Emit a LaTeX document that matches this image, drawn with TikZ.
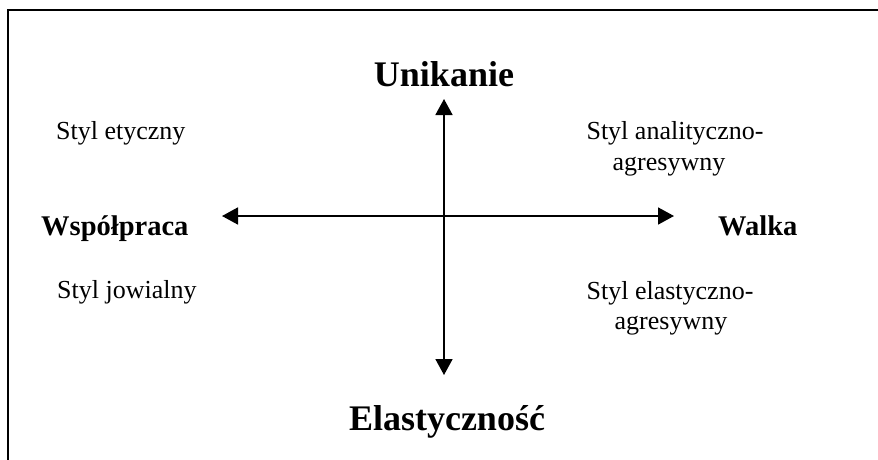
\documentclass[tikz,border=0pt]{standalone}
\usepackage{fontspec}
\setmainfont{Liberation Serif}
\usetikzlibrary{arrows.meta}
\tikzset{
  frameline/.style={line width=2pt, line cap=rect},
  axis/.style={line width=1.7pt, {Triangle[length=16pt,width=17pt]}-{Triangle[length=16pt,width=17pt]}},
  bigtitle/.style={inner sep=0pt, font=\fontsize{36}{40}\selectfont\bfseries},
  sidetitle/.style={inner sep=0pt, font=\fontsize{28.5}{32}\selectfont\bfseries},
  stylelabel/.style={inner sep=0pt, font=\fontsize{26}{29}\selectfont},
}
\begin{document}
\begin{tikzpicture}[x=1pt,y=-1pt]
\useasboundingbox (0,0) rectangle (878,459);
\coordinate (fbl) at (8,459);
\coordinate (ftl) at (8,10);
\coordinate (ftr) at (878,10);
\draw[frameline] (fbl) -- (ftl) -- (ftr);
\coordinate (top) at (444,99);
\coordinate (bot) at (444,375);
\coordinate (lft) at (222,216);
\coordinate (rgt) at (674,216);
\draw[axis] (bot) -- (top);
\draw[axis] (lft) -- (rgt);
\node[bigtitle, anchor=base] (uni) at (444,86) {Unikanie};
\node[bigtitle, anchor=base] (ela) at (447,430) {Elastyczność};
\node[sidetitle, anchor=base west] (wsp) at (41,235) {Współpraca};
\node[sidetitle, anchor=base west] (wal) at (718,235) {Walka};
\node[stylelabel, anchor=base west] (ety) at (56,139) {Styl etyczny};
\node[stylelabel, anchor=base west] (jow) at (57,298) {Styl jowialny};
\node[stylelabel, anchor=base] (ana1) at (675,139) {Styl analityczno-};
\node[stylelabel, anchor=base] (ana2) at (669,170) {agresywny};
\node[stylelabel, anchor=base] (ela1) at (670,299) {Styl elastyczno-};
\node[stylelabel, anchor=base] (ela2) at (671,329) {agresywny};
\end{tikzpicture}
\end{document}
